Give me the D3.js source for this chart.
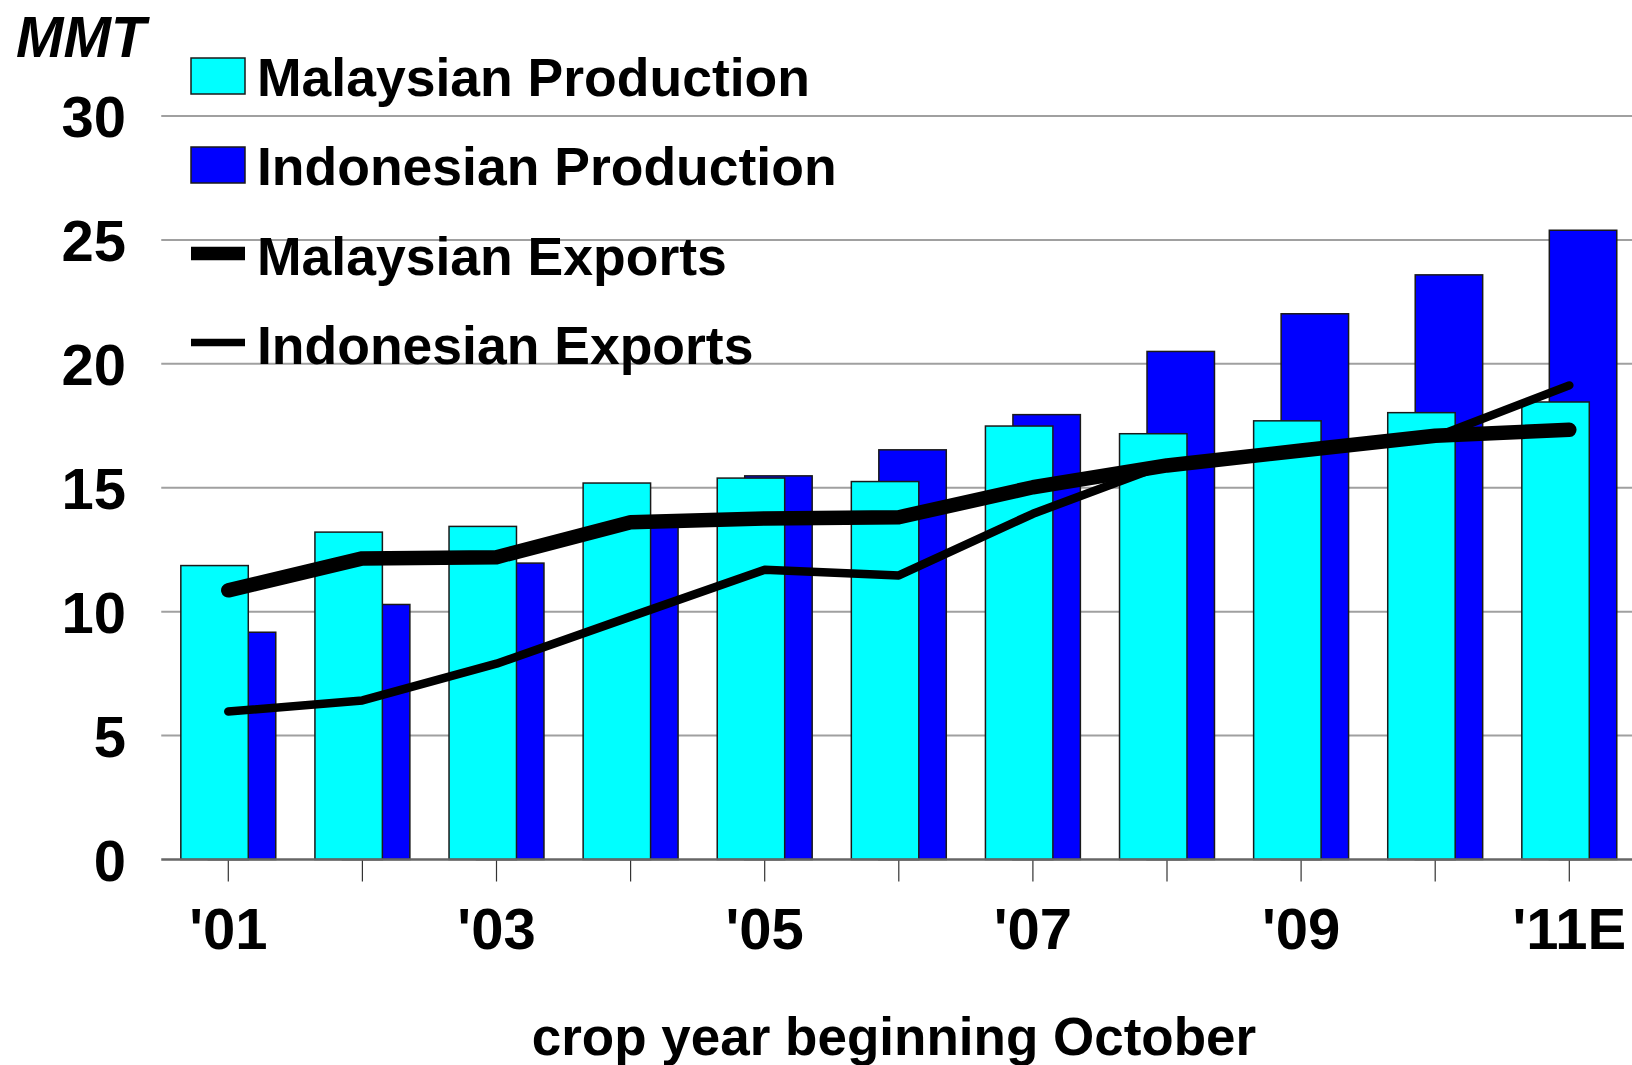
<!DOCTYPE html>
<html>
<head>
<meta charset="utf-8">
<script src="https://cdn.jsdelivr.net/npm/d3@7"></script>
<style>
    body { margin: 0; background: #fff; }
    text { font-family: 'Liberation Sans', Arial, sans-serif; font-weight: bold; fill: #000; }
</style>
</head>
<body>
<div id="chart"></div>
<script>
// crop years (beginning October)
const years = ["'01", "'02", "'03", "'04", "'05", "'06", "'07", "'08", "'09", "'10", "'11E"];
const labelledYears = ["'01", "'03", "'05", "'07", "'09", "'11E"];
const yTicks = [0, 5, 10, 15, 20, 25, 30];

// million metric tons
const malaysianProduction = [11.86, 13.21, 13.44, 15.19, 15.39, 15.25, 17.49, 17.18, 17.7, 18.03, 18.46];
const indonesianProduction = [9.17, 10.29, 11.96, 13.6, 15.48, 16.53, 17.95, 20.5, 22.02, 23.59, 25.39];
const malaysianExports = [10.86, 12.15, 12.2, 13.61, 13.76, 13.81, 15.02, 15.9, 16.5, 17.1, 17.34];
const indonesianExports = [5.97, 6.42, 7.9, 9.8, 11.69, 11.46, 13.95, 15.97, 16.45, 17.05, 19.13];

function init() {
    const width = 1632, height = 1065;
    const left = 161.25, step = 134.1;

    const svg = d3.select('#chart')
        .append('svg')
        .attr('width', width)
        .attr('height', height);

    const x = d3.scaleBand()
        .domain(years)
        .range([left, left + step * years.length]);
    const y = d3.scaleLinear()
        .domain([0, 30])
        .range([859.5, 116]);

    const bw = x.bandwidth();
    const center = d => x(d) + bw / 2;
    const barW = bw * 0.503;      // each bar
    const shift = bw * 0.205;     // second bar offset (overlapping)

    // gridlines
    svg.append('g')
        .selectAll('line')
        .data(yTicks.filter(v => v > 0))
        .join('line')
        .attr('x1', left)
        .attr('x2', width)
        .attr('y1', d => y(d))
        .attr('y2', d => y(d))
        .attr('stroke', '#a0a0a0')
        .attr('stroke-width', 2);

    // y axis labels
    const yAxis = svg.append('g')
        .attr('transform', 'translate(126,0)')
        .call(d3.axisLeft(y).tickValues(yTicks).tickSize(0).tickPadding(0));
    yAxis.select('.domain').remove();
    yAxis.selectAll('text')
        .attr('dy', '0.36em')
        .style('font-size', '58px')
        .style('font-family', "'Liberation Sans', Arial, sans-serif")
        .style('font-weight', 'bold');

    const rows = years.map((yr, i) => ({
        year: yr,
        mp: malaysianProduction[i],
        ip: indonesianProduction[i],
        me: malaysianExports[i],
        ie: indonesianExports[i]
    }));

    // Indonesian production sits behind the Malaysian bars
    svg.append('g')
        .selectAll('rect')
        .data(rows)
        .join('rect')
        .attr('x', d => center(d.year) - (barW + shift) / 2 + shift)
        .attr('y', d => y(d.ip))
        .attr('width', barW)
        .attr('height', d => y(0) - y(d.ip))
        .attr('fill', '#0000ff')
        .attr('stroke', '#1a1a1a')
        .attr('stroke-width', 1.5);

    svg.append('g')
        .selectAll('rect')
        .data(rows)
        .join('rect')
        .attr('x', d => center(d.year) - (barW + shift) / 2)
        .attr('y', d => y(d.mp))
        .attr('width', barW)
        .attr('height', d => y(0) - y(d.mp))
        .attr('fill', '#00ffff')
        .attr('stroke', '#1a1a1a')
        .attr('stroke-width', 1.5);

    // x axis
    const xAxis = svg.append('g')
        .attr('transform', `translate(0, ${y(0)})`)
        .call(d3.axisBottom(x)
            .tickSize(22)
            .tickFormat(d => labelledYears.includes(d) ? d : ''));
    xAxis.select('.domain').remove();
    xAxis.selectAll('.tick line')
        .attr('stroke', '#333')
        .attr('stroke-width', 1.2);
    xAxis.selectAll('text')
        .attr('y', 949 - y(0))
        .attr('dy', null)
        .style('font-size', '58px')
        .style('font-family', "'Liberation Sans', Arial, sans-serif")
        .style('font-weight', 'bold');

    svg.append('line')
        .attr('x1', left)
        .attr('x2', width)
        .attr('y1', y(0))
        .attr('y2', y(0))
        .attr('stroke', '#666')
        .attr('stroke-width', 2.5);

    // export lines
    const line = key => d3.line()
        .x(d => center(d.year))
        .y(d => y(d[key]));

    svg.append('path')
        .datum(rows)
        .attr('d', line('me'))
        .attr('fill', 'none')
        .attr('stroke', '#000')
        .attr('stroke-width', 14.5)
        .attr('stroke-linecap', 'round')
        .attr('stroke-linejoin', 'round');

    svg.append('path')
        .datum(rows)
        .attr('d', line('ie'))
        .attr('fill', 'none')
        .attr('stroke', '#000')
        .attr('stroke-width', 8.5)
        .attr('stroke-linecap', 'round')
        .attr('stroke-linejoin', 'round');

    // unit label
    svg.append('text')
        .attr('x', 16)
        .attr('y', 56.5)
        .style('font-size', '57px')
        .style('font-style', 'italic')
        .text('MMT');

    // legend
    const legend = [
        { name: 'Malaysian Production', type: 'bar', color: '#00ffff', base: 95.5 },
        { name: 'Indonesian Production', type: 'bar', color: '#0000ff', base: 184.5 },
        { name: 'Malaysian Exports', type: 'line', width: 13.5, base: 275 },
        { name: 'Indonesian Exports', type: 'line', width: 7.5, base: 364 }
    ];

    const lg = svg.append('g');
    legend.forEach(item => {
        if (item.type === 'bar') {
            lg.append('rect')
                .attr('x', 191)
                .attr('y', item.base - 37.5)
                .attr('width', 54)
                .attr('height', 36)
                .attr('fill', item.color)
                .attr('stroke', '#1a1a1a')
                .attr('stroke-width', 1.5);
        } else {
            lg.append('line')
                .attr('x1', 191)
                .attr('x2', 245)
                .attr('y1', item.base - 21.5)
                .attr('y2', item.base - 21.5)
                .attr('stroke', '#000')
                .attr('stroke-width', item.width);
        }
        lg.append('text')
            .attr('x', 257)
            .attr('y', item.base)
            .style('font-size', '53.5px')
            .text(item.name);
    });

    // x axis title
    svg.append('text')
        .attr('x', 894)
        .attr('y', 1055)
        .attr('text-anchor', 'middle')
        .style('font-size', '53px')
        .text('crop year beginning October');
}

window.onload = init;
</script>
</body>
</html>
